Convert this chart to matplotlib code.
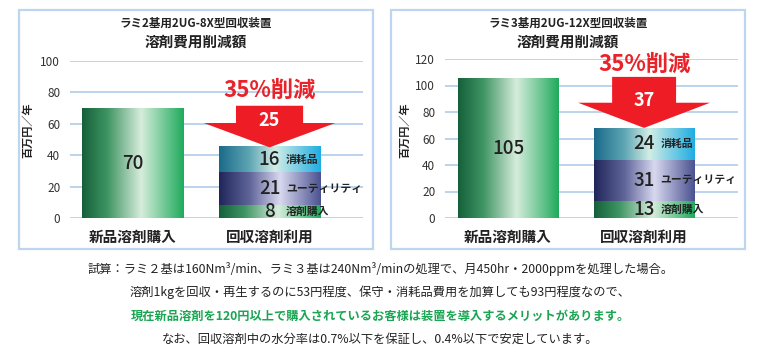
import numpy as np
import matplotlib
matplotlib.use("Agg")
import matplotlib.pyplot as plt
from matplotlib.colors import LinearSegmentedColormap
from matplotlib.patches import Rectangle, Polygon

plt.rcParams['font.family'] = ['Noto Sans CJK JP', 'DejaVu Sans']

# ---- data ----
titles_top = ["ラミ2基用2UG-8X型回収装置", "ラミ3基用2UG-12X型回収装置"]
title_main = "溶剤費用削減額"
categories = ["新品溶剤購入", "回収溶剤利用"]
segment_names = ["溶剤購入", "ユーティリティ", "消耗品"]
new_cost = [70, 105]
recovered = [[8, 21, 16], [13, 31, 24]]
reduction = [25, 37]
reduction_label = "35%削減"
ymax = [100, 120]
ylabel = "百万円／年"

notes = [
    "試算：ラミ２基は160Nm³/min、ラミ３基は240Nm³/minの処理で、月450hr・2000ppmを処理した場合。",
    "溶剤1kgを回収・再生するのに53円程度、保守・消耗品費用を加算しても93円程度なので、",
    "現在新品溶剤を120円以上で購入されているお客様は装置を導入するメリットがあります。",
    "なお、回収溶剤中の水分率は0.7%以下を保証し、0.4%以下で安定しています。",
]

W, H = 761, 361
fig = plt.figure(figsize=(W / 100, H / 100), dpi=100)


def fx(x):
    return x / W


def fy(y):
    return 1 - y / H


green = [(0, '#15603a'), (0.25, '#3f9563'), (0.58, '#d6eddc'), (1, '#1faa5c')]
navy = [(0, '#20255a'), (0.3, '#5f6499'), (0.6, '#d8d8ef'), (1, '#4a5290')]
teal = [(0, '#1a6a8a'), (0.3, '#5fa6b4'), (0.55, '#d2ede6'), (1, '#1fade2')]
seg_colors = [green, navy, teal]


def grad_bar(ax, x, bottom, height, width, stops):
    cmap = LinearSegmentedColormap.from_list('g', stops)
    img = np.linspace(0, 1, 256).reshape(1, -1)
    ax.imshow(img, cmap=cmap, extent=(x - width / 2, x + width / 2, bottom, bottom + height),
              aspect='auto', interpolation='bicubic', zorder=2)


# layout per panel (pixels)
panels = [
    dict(box=(19, 10, 373, 249), ax=(70, 61, 363, 218), xlim=(-0.456, 1.682),
         title_x=196, ylab_x=28, head=15.5, shaft=26.5, hw=0.48, sw=0.245),
    dict(box=(391, 10, 745, 249), ax=(445, 59, 738, 218), xlim=(-0.463, 1.69),
         title_x=568, ylab_x=405, head=19, shaft=38.5, hw=0.485, sw=0.235),
]
width = 0.737

for i, p in enumerate(panels):
    x0, y0, x1, y1 = p['box']
    fig.add_artist(Rectangle((fx(x0), fy(y1)), fx(x1 - x0), (y1 - y0) / H,
                             transform=fig.transFigure, fill=False,
                             edgecolor='#bdd5ef', linewidth=1.6))
    fig.text(fx(p['title_x']), fy(23), titles_top[i], ha='center', va='center',
             fontsize=8.3, fontweight='bold', color='#222222')
    fig.text(fx(p['title_x']), fy(42), title_main, ha='center', va='center',
             fontsize=10.5, fontweight='bold', color='#222222')

    a0, b0, a1, b1 = p['ax']
    ax = fig.add_axes([fx(a0), fy(b1), fx(a1 - a0), (b1 - b0) / H])
    ax.set_xlim(*p['xlim'])
    ax.set_ylim(0, ymax[i])
    ax.set_yticks(np.arange(0, ymax[i] + 1, 20))
    ax.yaxis.grid(True, color='#a9c7e8', linewidth=1.1)
    ax.set_axisbelow(True)
    ax.tick_params(axis='y', length=0, pad=7, labelsize=8.5, labelcolor='#333333')
    ax.set_xticks([0, 1])
    ax.set_xticklabels(categories, fontsize=10.5, fontweight='bold', color='#222222')
    ax.tick_params(axis='x', length=0, pad=8)
    for s in ax.spines.values():
        s.set_visible(False)
    ax.set_ylabel(ylabel, fontsize=8, fontweight='bold', color='#222222', va='center')
    ax.yaxis.set_label_coords((fx(p['ylab_x']) - fx(a0)) / fx(a1 - a0),
                              (b1 - 130) / (b1 - b0))

    # new solvent bar
    grad_bar(ax, 0, 0, new_cost[i], width, green)
    ax.text(0, new_cost[i] / 2, str(new_cost[i]), ha='center', va='center',
            fontsize=13.5, fontweight='medium', color='#222222', zorder=5)

    # recovered stacked bar
    bottom = 0
    for val, name, cols in zip(recovered[i], segment_names, seg_colors):
        grad_bar(ax, 1, bottom, val, width, cols)
        mid = bottom + val / 2
        ax.text(1, mid, str(val), ha='center', va='center', fontsize=13.5,
                fontweight='medium', color='#222222', zorder=5)
        ax.text(1.12, mid, name, ha='left', va='center', fontsize=7.8,
                fontweight='bold', color='#222222', zorder=5, clip_on=False)
        bottom += val
    total = bottom
    ax.set_xlim(*p['xlim'])
    ax.set_ylim(0, ymax[i])
    ax.set_aspect('auto')

    # reduction arrow
    base = total + p['head']
    top = total + p['shaft']
    hw, sw = p['hw'], p['sw']
    arrow = Polygon([(1, total), (1 - hw, base), (1 - sw, base), (1 - sw, top),
                     (1 + sw, top), (1 + sw, base), (1 + hw, base)],
                    closed=True, facecolor='#ee1c25', edgecolor='none', zorder=4,
                    clip_on=False)
    ax.add_patch(arrow)
    ax.text(1, base + 1.5, str(reduction[i]), ha='center', va='center', fontsize=13,
            fontweight='bold', color='white', zorder=5)
    ax.text(1, top + 9.5, reduction_label, ha='center', va='center', fontsize=16,
            fontweight='bold', color='#e8232a', zorder=5, clip_on=False)

# notes
note_y = [269, 292, 316, 339]
for j, (t, y) in enumerate(zip(notes, note_y)):
    bold = j == 2
    fig.text(0.5, fy(y), t, ha='center', va='center', fontsize=8.8,
             fontweight='bold' if bold else 'normal',
             color='#1aa553' if bold else '#222222')

fig.savefig('out.png', dpi=100, facecolor='white')
